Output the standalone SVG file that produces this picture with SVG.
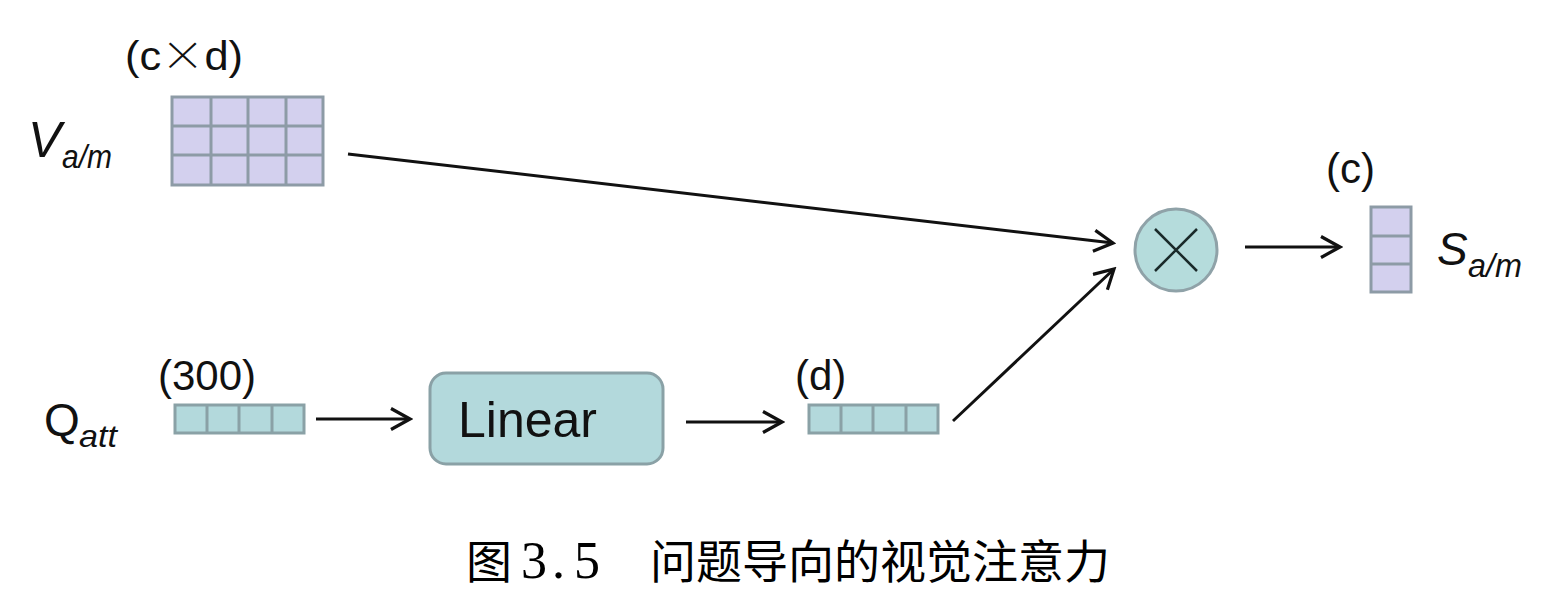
<svg xmlns="http://www.w3.org/2000/svg" width="1544" height="592" viewBox="0 0 1544 592">
<defs>
<style>
.lav{fill:#d3d0ee;stroke:#8d9ba6;stroke-width:3}
.teal{fill:#b3d9dc;stroke:#8aa1a6;stroke-width:3}
.grid{stroke:#8d9ba6;stroke-width:3;fill:none}
.gridt{stroke:#8aa1a6;stroke-width:3;fill:none}
.lbl{font-family:"Liberation Sans",Arial,sans-serif;fill:#111}
.edge{stroke:#111;stroke-width:3;fill:none}
</style>
<marker id="arr" viewBox="0 0 24 24" refX="21" refY="12" markerWidth="24" markerHeight="24" markerUnits="userSpaceOnUse" orient="auto">
<path d="M2,1.5 L21,12 L2,22.5" fill="none" stroke="#111" stroke-width="3.2"/>
</marker>
</defs>
<rect width="1544" height="592" fill="#fff"/>

<g id="V">
<text class="lbl" x="28" y="157" font-size="50" font-style="italic">V</text>
<text class="lbl" x="62" y="168" font-size="34" font-style="italic" textLength="50" lengthAdjust="spacingAndGlyphs">a/m</text>
<text class="lbl" x="125" y="70" font-size="40" textLength="118" lengthAdjust="spacingAndGlyphs">(c<tspan font-family="'Noto Sans CJK SC',sans-serif" font-weight="300">×</tspan>d)</text>
<rect class="lav" x="172" y="97" width="151" height="88"/>
<path class="grid" d="M211,97V185M248,97V185M286,97V185M172,126H323M172,155H323"/>
</g>

<g id="Q">
<text class="lbl" x="44" y="436" font-size="46">Q</text>
<text class="lbl" x="79" y="447" font-size="32" font-style="italic" textLength="38" lengthAdjust="spacingAndGlyphs">att</text>
<text class="lbl" x="158" y="390" font-size="42">(300)</text>
<rect class="teal" x="175" y="405" width="129" height="28"/>
<path class="gridt" d="M207,405V433M239,405V433M272,405V433"/>
</g>

<g id="Linear">
<rect class="teal" x="430" y="373" width="233" height="91" rx="16"/>
<text class="lbl" x="458" y="437" font-size="50">Linear</text>
</g>

<g id="D">
<text class="lbl" x="795" y="390" font-size="42">(d)</text>
<rect class="teal" x="809" y="405" width="129" height="28"/>
<path class="gridt" d="M841,405V433M873,405V433M906,405V433"/>
</g>

<g id="mul">
<circle cx="1176" cy="250" r="41" fill="#b5dcdc" stroke="#8fa2a8" stroke-width="3"/>
<path d="M1155,229L1197,271M1197,229L1155,271" stroke="#1a2a2a" stroke-width="2.5" fill="none"/>
</g>

<g id="S">
<text class="lbl" x="1326" y="183" font-size="42">(c)</text>
<rect class="lav" x="1371" y="207" width="40" height="85"/>
<path class="grid" d="M1371,236H1411M1371,264H1411"/>
<text class="lbl" x="1437" y="265" font-size="46" font-style="italic">S</text>
<text class="lbl" x="1468" y="277" font-size="34" font-style="italic" textLength="54" lengthAdjust="spacingAndGlyphs">a/m</text>
</g>

<g id="connectors">
<path class="edge" d="M348,154L1113,243" marker-end="url(#arr)"/>
<path class="edge" d="M953,421L1114,269" marker-end="url(#arr)"/>
<path class="edge" d="M316,419L410,419" marker-end="url(#arr)"/>
<path class="edge" d="M686,422L782,422" marker-end="url(#arr)"/>
<path class="edge" d="M1245,247L1340,247" marker-end="url(#arr)"/>
</g>

<g id="caption">
<text font-family="'Noto Sans CJK SC',sans-serif" font-size="46" fill="#000" y="578"><tspan x="466">图</tspan><tspan x="521" font-family="'Liberation Serif',serif" font-size="52">3</tspan><tspan x="552" font-family="'Liberation Serif',serif" font-size="52">.</tspan><tspan x="574" font-family="'Liberation Serif',serif" font-size="52">5</tspan><tspan x="650">问题导向的视觉注意力</tspan></text>
</g>
</svg>
